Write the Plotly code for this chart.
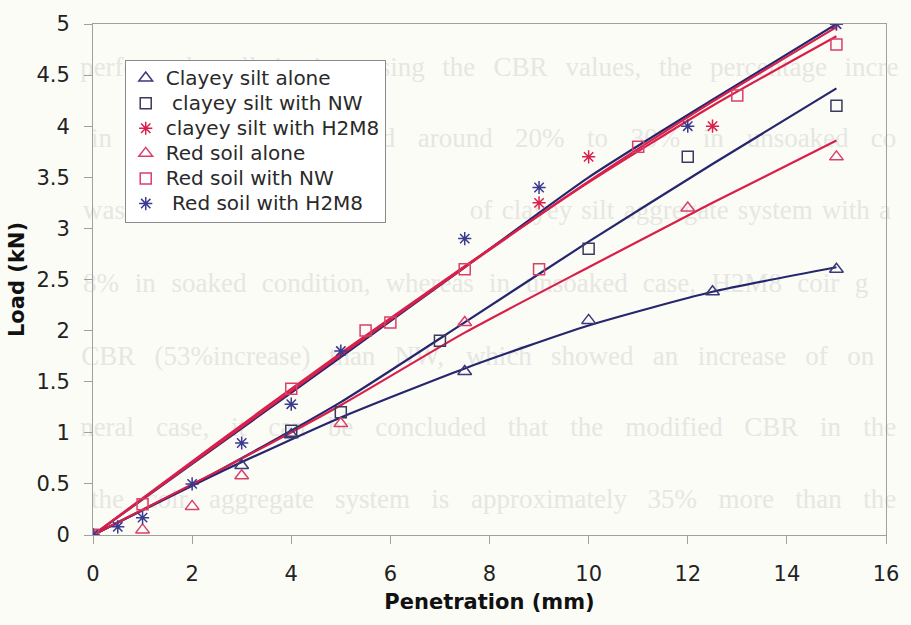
import plotly.graph_objects as go

# ---- measured points: penetration (mm) vs load (kN) ----
ca_x = [0, 3, 4, 7.5, 10, 12.5, 15]
ca_y = [0, 0.68, 0.98, 1.6, 2.1, 2.38, 2.6]

cnw_x = [0, 4, 5, 7, 10, 12, 15]
cnw_y = [0, 1.02, 1.2, 1.9, 2.8, 3.7, 4.2]

ch_x = [0, 9, 10, 12.5, 15]
ch_y = [0, 3.25, 3.7, 4.0, 5.0]

ra_x = [0, 1, 2, 3, 5, 7.5, 12, 15]
ra_y = [0, 0.05, 0.28, 0.58, 1.09, 2.08, 3.2, 3.7]

rnw_x = [0, 1, 4, 5.5, 6, 7.5, 9, 11, 13, 15]
rnw_y = [0, 0.3, 1.43, 2.0, 2.08, 2.6, 2.6, 3.8, 4.3, 4.8]

rh_x = [0, 0.5, 1, 2, 3, 4, 5, 7.5, 9, 12, 15]
rh_y = [0, 0.08, 0.17, 0.5, 0.9, 1.28, 1.8, 2.9, 3.4, 4.0, 5.0]

# ---- trend curves ----
trend_x = [0, 2.5, 5, 7.5, 10, 12.5, 15]
ca_trend = [0, 0.6, 1.15, 1.63, 2.05, 2.38, 2.62]
cnw_trend = [0, 0.62, 1.3, 2.08, 2.87, 3.63, 4.37]
ch_trend = [0, 0.88, 1.76, 2.62, 3.46, 4.24, 4.97]
ra_trend = [0, 0.62, 1.27, 1.98, 2.62, 3.25, 3.86]
rnw_trend = [0, 0.9, 1.78, 2.63, 3.45, 4.2, 4.88]
rh_trend = [0, 0.87, 1.74, 2.62, 3.5, 4.26, 5.0]

series_names = ["Clayey silt alone", " clayey silt with NW", "clayey silt with H2M8",
                "Red soil alone", "Red soil with NW", " Red soil with H2M8"]

x_ticks = [0, 2, 4, 6, 8, 10, 12, 14, 16]
y_ticks = [0, 0.5, 1, 1.5, 2, 2.5, 3, 3.5, 4, 4.5, 5]

# faint text showing through from the facing page, one entry per printed line
page_lines = [
    "performed well in increasing the CBR values, the percentage incre",
    "in soaked condition and around 20% to 30% in unsoaked co",
    "of clayey silt aggregate system with a",
    "8% in soaked condition, whereas in unsoaked case, H2M8 coir g",
    "CBR (53%increase) than NW, which showed an increase of on",
    "neral case, it can be concluded that the modified CBR in the",
    "the coir aggregate system is approximately 35% more than the",
]

NAVY_LINE = "#26266e"
RED_LINE = "#d81f4a"
NAVY_MK = "#3a3a7a"
RED_MK = "#d8406a"
BG = "#fcfcf7"

W, H = 911, 625
ML, MR, MT, MB = 93, 18, 17, 90
PW, PH = W - ML - MR, H - MT - MB


def px_x(p):
    return (p - ML) / PW


def px_y(p):
    return (H - MB - p) / PH


fig = go.Figure()

# trend curves underneath the markers
trend_specs = [
    (ca_trend, NAVY_LINE), (cnw_trend, NAVY_LINE), (ra_trend, RED_LINE),
    (rh_trend, NAVY_LINE), (rnw_trend, RED_LINE), (ch_trend, RED_LINE),
]
for ys, col in trend_specs:
    fig.add_trace(go.Scatter(
        x=trend_x, y=ys, mode="lines", showlegend=False, hoverinfo="skip",
        line=dict(color=col, width=2.2, shape="spline", smoothing=0.6),
    ))

marker_specs = [
    (ca_x, ca_y, "triangle-up-open", NAVY_MK, 12),
    (cnw_x, cnw_y, "square-open", "#3a3a5e", 11),
    (ch_x, ch_y, "asterisk-open", "#d8204a", 11),
    (ra_x, ra_y, "triangle-up-open", RED_MK, 12),
    (rnw_x, rnw_y, "square-open", RED_MK, 11),
    (rh_x, rh_y, "asterisk-open", "#3a3a8e", 11),
]
for (xs, ys, sym, col, sz), name in zip(marker_specs, series_names):
    fig.add_trace(go.Scatter(
        x=xs, y=ys, mode="markers",
        name=f"<span style='font-size:20px'>{name}</span>",
        marker=dict(symbol=sym, size=sz, color=col, line=dict(color=col, width=1.5)),
    ))

# ---- faint page text, laid out as justified lines beneath the traces ----
TIMES_W = {
    "a": .444, "b": .5, "c": .444, "d": .5, "e": .444, "f": .333, "g": .5, "h": .5,
    "i": .278, "j": .278, "k": .5, "l": .278, "m": .778, "n": .5, "o": .5, "p": .5,
    "q": .5, "r": .333, "s": .389, "t": .278, "u": .5, "v": .5, "w": .722, "x": .5,
    "y": .5, "z": .444, "B": .667, "C": .667, "H": .722, "M": .889, "N": .722,
    "R": .667, "W": .944, "%": .833, "(": .333, ")": .333, ",": .25, ".": .25,
}


def word_w(word, size):
    return sum(TIMES_W.get(c, .5) for c in word) * size


GF = 27
line_rows = [58, 130, 203, 277, 350, 422, 495]
line_spans = [(77, 902), (88, 900), (470, 895), (80, 872), (78, 878), (77, 900), (88, 900)]
shapes = []


def add_word(text, left_px, row_px):
    shapes.append(dict(
        type="rect", xref="paper", yref="paper", layer="below",
        x0=px_x(left_px), x1=px_x(left_px + 2), y0=px_y(row_px + 1), y1=px_y(row_px - 1),
        line=dict(width=0), fillcolor="rgba(0,0,0,0)",
        label=dict(text=text, textposition="middle left", padding=0,
                   font=dict(family="Liberation Serif", size=GF, color="#e6e6e2")),
    ))


for text, row, (a, b) in zip(page_lines, line_rows, line_spans):
    words = text.split(" ")
    widths = [word_w(w, GF) for w in words]
    gap = max(0.25 * GF, (b - a - sum(widths)) / max(1, len(words) - 1))
    pos = a
    for w, wd in zip(words, widths):
        add_word(w, pos, row)
        pos += wd + gap
add_word("was", 80, 203)

axis_common = dict(
    showline=True, mirror=True, linecolor="#a0a0a0", linewidth=1,
    ticks="outside", ticklen=8, tickcolor="#a0a0a0", tickwidth=1,
    showgrid=False, zeroline=False,
    tickfont=dict(family="DejaVu Sans", size=21, color="#222222"),
)

fig.update_layout(
    width=W, height=H,
    margin=dict(l=ML, r=MR, t=MT, b=MB),
    paper_bgcolor=BG, plot_bgcolor=BG,
    font=dict(family="DejaVu Sans", color="#222222"),
    shapes=shapes,
    xaxis=dict(
        range=[0, 16], tickvals=x_ticks, ticktext=[str(v) for v in x_ticks],
        ticklabelstandoff=12,
        title=dict(text="Penetration (mm)", standoff=9,
                   font=dict(family="DejaVu Sans", size=21, weight="bold", color="#111111")),
        **axis_common,
    ),
    yaxis=dict(
        range=[0, 5], tickvals=y_ticks, ticktext=[f"{v:g}" for v in y_ticks],
        ticklabelstandoff=10,
        title=dict(text="Load (kN)", standoff=6,
                   font=dict(family="DejaVu Sans", size=21, weight="bold", color="#111111")),
        **axis_common,
    ),
    legend=dict(
        x=px_x(125), y=px_y(53), xanchor="left", yanchor="top",
        bgcolor="#ffffff", bordercolor="#8a8a8a", borderwidth=1,
        font=dict(family="DejaVu Sans", size=17, color="#2a2a2a"),
        itemwidth=30, tracegroupgap=0,
    ),
    showlegend=True,
)

fig.write_html("out.html")
